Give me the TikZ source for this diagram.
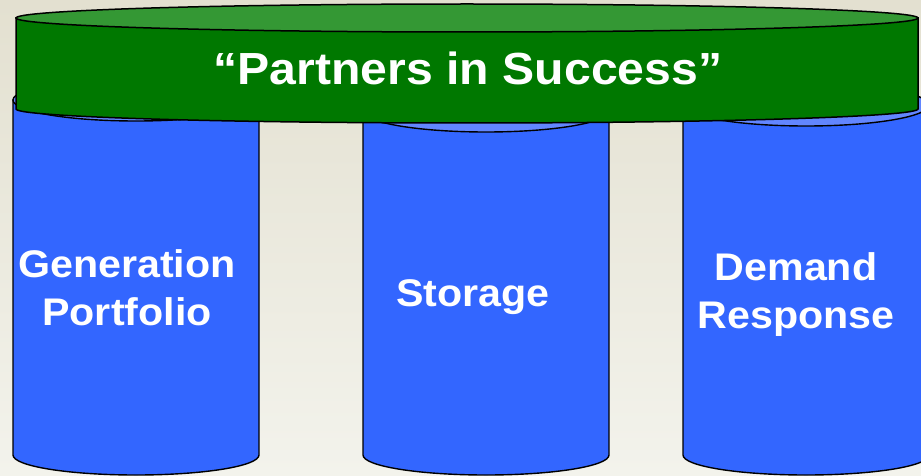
\documentclass[tikz,border=0pt]{standalone}
\usepackage{fontspec}
\setmainfont{Liberation Sans}[FakeStretch=1.07]

\definecolor{bgtop}{RGB}{227,224,208}
\definecolor{bgbot}{RGB}{243,243,236}
\definecolor{barside}{RGB}{0,120,0}
\definecolor{bartop}{RGB}{52,152,52}
\definecolor{pillside}{RGB}{51,102,255}
\definecolor{pilltop}{RGB}{98,134,255}

\tikzset{
  pilltext/.style={text=white, font=\bfseries\fontsize{38.5}{48}\selectfont, align=center},
  bartext/.style={text=white, font=\bfseries\fontsize{45}{50}\selectfont}
}

\begin{document}
\begin{tikzpicture}[x=1pt, y=1pt]
        % Background
        \shade[top color=bgtop, bottom color=bgbot] (0,0) rectangle (921,475);
        \useasboundingbox (0,0) rectangle (921,475);

        % Pillars
        \foreach \cx/\ytop in {136/375, 486/364, 806/370} {
            \draw[line width=1.4pt, fill=pillside] (\cx-123,\ytop) -- (\cx-123,20)
                arc[start angle=180, end angle=360, x radius=123, y radius=20] -- (\cx+123,\ytop) -- cycle;
            \draw[line width=1.4pt, fill=pilltop] (\cx,\ytop) ellipse (123 and 21);
        }

        % Pillar labels (base = last line)
        \node[pilltext, anchor=base] (gen) at (127,150) {Generation\\Portfolio};
        \node[pilltext, anchor=base] (stor) at (473,168.3) {Storage};
        \node[pilltext, anchor=base] (dem) at (796,147) {Demand\\Response};

        % Top bar
        \draw[line width=1.5pt, fill=barside] (16,457) -- (16,366)
            arc[start angle=180, end angle=360, x radius=451, y radius=14] -- (918,457) -- cycle;
        \draw[line width=1.5pt, fill=bartop] (467,457) ellipse (451 and 14);
        \node[bartext, anchor=base] (title) at (468,390.5) {“Partners in Success”};

\end{tikzpicture}
\end{document}
